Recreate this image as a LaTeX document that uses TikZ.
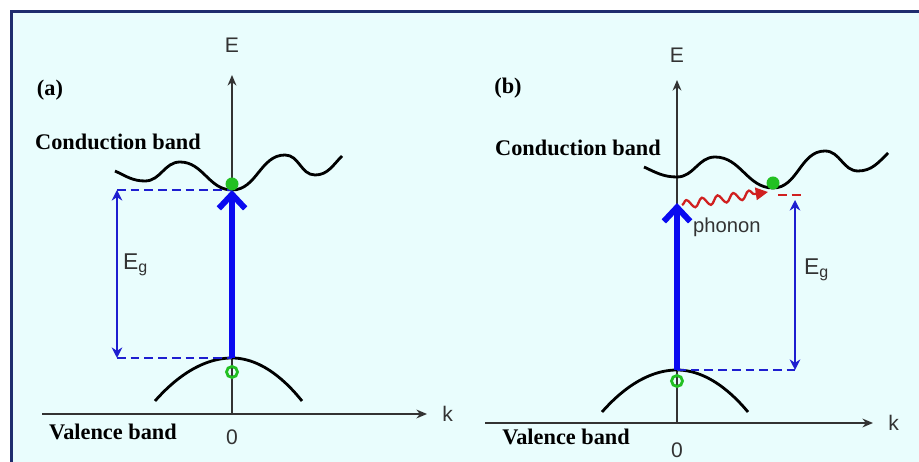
\documentclass[tikz,border=0pt]{standalone}
\usepackage{fontspec}
\setmainfont{Liberation Serif}
\newfontfamily\arialfont{Liberation Sans}
\usepackage{xcolor}
\usetikzlibrary{arrows.meta, positioning, decorations.pathmorphing}

\definecolor{framebg}{HTML}{E9FDFD}
\definecolor{frameline}{HTML}{1E2D6E}
\definecolor{gapblue}{HTML}{1E1ED0}
\definecolor{pumpblue}{HTML}{0A0AF0}
\definecolor{dotgreen}{HTML}{22C022}
\definecolor{phred}{HTML}{D02020}
\definecolor{axisgray}{HTML}{333333}

\begin{document}
\begin{tikzpicture}[x=0.02cm, y=0.02cm,
    axis/.style={-{Stealth[length=6pt,width=5pt]}, axisgray, line width=1.1pt},
    band/.style={black, line width=1.6pt},
    level/.style={gapblue, line width=1.3pt, dash pattern=on 5pt off 2.8pt},
    gap/.style={{Stealth[length=6pt,width=6pt]}-{Stealth[length=6pt,width=6pt]},
                gapblue, line width=1.2pt},
    pump/.style={-{Straight Barb[length=8pt,width=15pt]}, pumpblue, line width=3.4pt},
    phon/.style={-{Triangle[length=7pt,width=7pt]}, phred, line width=1.3pt,
                 decorate, decoration={snake, amplitude=2.4pt,
                 segment length=9pt, post length=6pt}},
    lbl/.style={font=\arialfont\fontsize{12}{14}\selectfont, text=axisgray, inner sep=1pt},
    title/.style={font=\fontsize{12.7}{15}\selectfont\bfseries, inner sep=0pt},
    elec/.style={fill=dotgreen},
    hole/.style={draw=dotgreen, line width=1.6pt}
  ]
  \useasboundingbox (0,0) rectangle (919,462);
  \fill[framebg] (10,0) rectangle (919,452);
  \draw[frameline, line width=1.7pt] (11.5,0) -- (11.5,450.5) -- (919,450.5);

  % (a) direct gap
  \coordinate (Oa) at (232,48);
  \coordinate (Eatop) at (232,387);
  \coordinate (kaL) at (42,48);
  \coordinate (kaR) at (427,48);
  \coordinate (CBa) at (232,272);
  \coordinate (VBa) at (232,104);
  \coordinate (GaT) at (117,272);
  \coordinate (GaB) at (117,104);

  \node[title] (taga) at (50,372) {(a)};
  \node[title] (cba) at (118,320) {Conduction band};
  \node[title] (vba) at (113,30) {Valence band};

  \draw[axis] (kaL) -- (kaR);
  \draw[axis] (Oa) -- (Eatop);
  \node[lbl, right=7.5pt of kaR] (ka) {k};
  \node[lbl, above=11.5pt of Eatop] (Ea) {E};
  \node[lbl, below=8pt of Oa] (Za) {0};

  \draw[band] (115,291) to[out=-25,in=180] (145,281) to[out=0,in=180] (180,300)
    to[out=0,in=180] (CBa) to[out=0,in=180] (285,307) to[out=0,in=180] (315,287)
    to[out=0,in=-135] (342,306);
  \draw[band] (155,61) parabola bend (VBa) (302,61);

  \draw[level] (GaT) -- (CBa);
  \draw[level] (GaB) -- (VBa);
  \draw[gap] (GaB) -- (GaT);
  \node[lbl, anchor=west, font=\arialfont\fontsize{13}{15}\selectfont] (Ega) at (121,197) {E\textsubscript{g}};

  \draw[pump] (VBa) -- (CBa);
  \fill[elec] (232,278) circle[radius=6.5];
  \draw[hole] (232,90) circle[radius=5.5];

  % (b) indirect gap
  \coordinate (Ob) at (677,39);
  \coordinate (Ebtop) at (677,382);
  \coordinate (kbL) at (485,39);
  \coordinate (kbR) at (873,39);
  \coordinate (VBb) at (677,92);
  \coordinate (PHb) at (677,259);
  \coordinate (CBb) at (773,274);
  \coordinate (PHs) at (682,257);
  \coordinate (PHe) at (768,270);
  \coordinate (RLa) at (778,267);
  \coordinate (RLb) at (805,267);
  \coordinate (GbT) at (795,262);
  \coordinate (GbB) at (795,92);

  \node[title] (tagb) at (508,374) {(b)};
  \node[title] (cbb) at (578,314) {Conduction band};
  \node[title] (vbb) at (566,25) {Valence band};

  \draw[axis] (kbL) -- (kbR);
  \draw[axis] (Ob) -- (Ebtop);
  \node[lbl, right=7.5pt of kbR] (kb) {k};
  \node[lbl, above=9pt of Ebtop] (Eb) {E};
  \node[lbl, below=10pt of Ob] (Zb) {0};

  \draw[band] (644,295) to[out=-25,in=180] (677,285) to[out=0,in=180] (715,305)
    to[out=0,in=180] (CBb) to[out=0,in=180] (825,311) to[out=0,in=180] (858,291)
    to[out=0,in=-135] (888,309);
  \draw[band] (602,50) parabola bend (VBb) (748,50);

  \draw[level, phred] (RLa) -- (RLb);
  \draw[level] (VBb) -- (GbB);
  \draw[gap] (GbB) -- (GbT);
  \node[lbl, anchor=west, font=\arialfont\fontsize{13}{15}\selectfont] (Egb) at (802,192) {E\textsubscript{g}};

  \draw[pump] (VBb) -- (PHb);
  \draw[phon] (PHs) -- (PHe);
  \node[lbl, anchor=west, font=\arialfont\fontsize{11.5}{13}\selectfont] (phl) at (691,235) {phonon};
  \fill[elec] (CBb) ++(0,5) circle[radius=6.5];
  \draw[hole] (677,81) circle[radius=5.5];
\end{tikzpicture}
\end{document}
